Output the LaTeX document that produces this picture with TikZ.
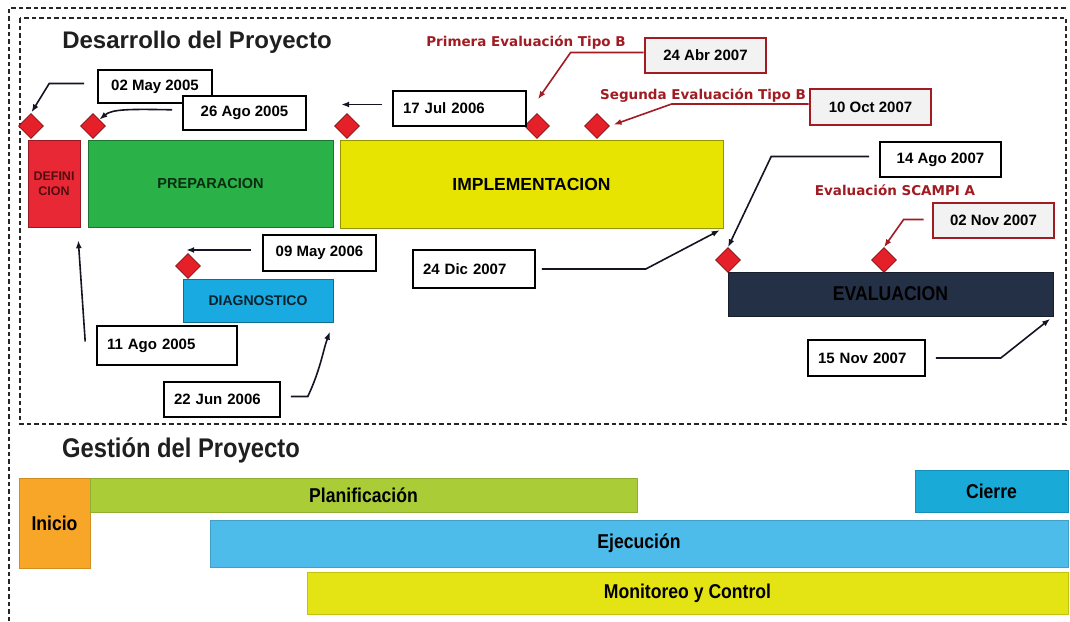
\documentclass[tikz,border=0pt]{standalone}
\usepackage{fontspec}
\setmainfont{Liberation Sans}
\newfontfamily\narrowfont{Liberation Sans}[FakeStretch=0.88]
\newfontfamily\labelfont{DejaVu Sans}
\usetikzlibrary{shapes.geometric,arrows.meta,calc}

\definecolor{defred}{RGB}{232,40,52}
\definecolor{prepgreen}{RGB}{42,178,72}
\definecolor{implyellow}{RGB}{230,228,0}
\definecolor{diagblue}{RGB}{24,170,225}
\definecolor{evalnavy}{RGB}{36,48,70}
\definecolor{msred}{RGB}{230,32,40}
\definecolor{labelred}{RGB}{160,28,34}
\definecolor{inicioorange}{RGB}{247,166,40}
\definecolor{plangreen}{RGB}{170,205,55}
\definecolor{cierreblue}{RGB}{25,170,215}
\definecolor{ejecblue}{RGB}{78,188,234}
\definecolor{moniyellow}{RGB}{228,228,20}
\definecolor{linecol}{RGB}{20,20,35}

\begin{document}
\begin{tikzpicture}[x=1pt,y=-1pt,
  frame/.style={draw=black!85, line width=1.8pt, dash pattern=on 4.5pt off 3pt},
  phase/.style={draw=#1!65!black, fill=#1, line width=0.6pt, inner sep=0pt},
  bar/.style={draw=#1!85!black, fill=#1, line width=0.5pt, inner sep=0pt,
    font=\narrowfont\bfseries\fontsize{20}{22}\selectfont},
  milestone/.style={diamond, draw=msred!55!black, fill=msred, line width=0.6pt,
    minimum width=25pt, minimum height=25pt, inner sep=0pt},
  datebox/.style={draw=black, line width=1.6pt, fill=white, inner xsep=10pt,
    font=\bfseries\fontsize{15}{17}\selectfont},
  redbox/.style={datebox, draw=labelred, line width=2.8pt, fill=black!5},
  evlabel/.style={font=\labelfont\bfseries\fontsize{13.5}{15}\selectfont, text=labelred},
  conn/.style={draw=linecol, line width=1.6pt, -{Latex[length=8pt,width=6pt]}},
  redconn/.style={conn, draw=labelred}
]
\useasboundingbox (0,0) rectangle (1070,621);

% dashed frames
\draw[frame] (9,621) -- (9,8) -- (1068,8);
\draw[frame] (20,18) rectangle (1066,424);

% section titles
\node[font=\bfseries\fontsize{24}{27}\selectfont, text=black!88] (devtitle) at (197,42) {Desarrollo del Proyecto};
\node[font=\narrowfont\bfseries\fontsize{27}{30}\selectfont, text=black!88] (mgmttitle) at (181,450) {Gestión del Proyecto};

% development phases
\node[phase=defred, minimum width=52pt, minimum height=87pt, align=center,
  font=\bfseries\fontsize{12.5}{15}\selectfont, text=defred!35!black] (def) at (54,183.5) {DEFINI\\CION};
\node[phase=prepgreen, minimum width=245pt, minimum height=87pt,
  font=\bfseries\fontsize{14.5}{16}\selectfont, text=prepgreen!25!black] (prep) at (210.5,183.5) {PREPARACION};
\node[phase=implyellow, minimum width=383pt, minimum height=88pt,
  font=\bfseries\fontsize{17.5}{19}\selectfont] (impl) at (531.5,184) {IMPLEMENTACION};
\node[phase=diagblue, minimum width=150pt, minimum height=43pt,
  font=\bfseries\fontsize{14}{16}\selectfont, text=diagblue!20!black] (diag) at (258,300.5) {DIAGNOSTICO};
\node[phase=evalnavy, minimum width=325pt, minimum height=44pt,
  font=\narrowfont\bfseries\fontsize{20}{22}\selectfont, text=black] (eval) at (890.5,294) {EVALUACION};

% milestones
\node[milestone] (d1) at (31,126) {};
\node[milestone] (d2) at (93,126) {};
\node[milestone] (d3) at (347,126) {};
\node[milestone] (d4) at (537,126) {};
\node[milestone] (d5) at (597,126) {};
\node[milestone] (d6) at (188,266) {};
\node[milestone] (d7) at (728,260) {};
\node[milestone] (d8) at (884,260) {};

% evaluation labels
\node[evlabel] (lblprim) at (526,43) {Primera Evaluación Tipo B};
\node[evlabel] (lblseg) at (703,96) {Segunda Evaluación Tipo B};
\node[evlabel] (lblscampi) at (895,190) {Evaluación SCAMPI A};

% date boxes
\node[datebox, minimum width=114pt, minimum height=33pt] (b02may) at (155,86.5) {02 May 2005};
\node[datebox, minimum width=123pt, minimum height=34pt] (b26ago) at (244.5,113) {26 Ago 2005};
\node[datebox, text width=113pt, align=left, minimum height=35pt] (b17jul) at (459.5,108.5) {17 Jul 2006};
\node[redbox, minimum width=121pt, minimum height=35pt] (b24abr) at (705.5,55.5) {24 Abr 2007};
\node[redbox, minimum width=121pt, minimum height=36pt] (b10oct) at (870.5,107) {10 Oct 2007};
\node[datebox, minimum width=121pt, minimum height=35pt] (b14ago) at (940.5,159.5) {14 Ago 2007};
\node[redbox, minimum width=121pt, minimum height=35pt] (b02nov) at (993.5,220.5) {02 Nov 2007};
\node[datebox, minimum width=113pt, minimum height=36pt] (b09may) at (319.5,253) {09 May 2006};
\node[datebox, text width=120pt, align=left, minimum height=39pt] (b11ago) at (167,345.5) {11 Ago 2005};
\node[datebox, text width=96pt, align=left, minimum height=35pt] (b22jun) at (222,399.5) {22 Jun 2006};
\node[datebox, text width=102pt, align=left, minimum height=38pt] (b24dic) at (474,269) {24 Dic 2007};
\node[datebox, text width=97pt, align=left, minimum height=36pt] (b15nov) at (866.5,358) {15 Nov 2007};

% connectors
\draw[conn, shorten <=13pt, shorten >=1pt] ([yshift=3pt]b02may.west) -- ++(-48,0) -- (d1.north);
\draw[conn, shorten <=10pt] ([yshift=3pt]b26ago.west) .. controls (130,109) and (112,109) .. (d2.north east);
\draw[conn, shorten <=10pt] ([yshift=4pt]b17jul.west) -- ++(-51,0);
\draw[redconn] ([yshift=3pt]b24abr.west) -- ++(-73,0) -- ($(d4.north)+(1,-14)$);
\draw[redconn, shorten >=4pt] ([yshift=3pt]b10oct.west) -- ++(-137,0) -- (d5.east);
\draw[conn, shorten <=10pt] ([yshift=3pt]b14ago.west) -- ++(-108,0) -- (d7.north);
\draw[redconn, shorten <=8pt] ([yshift=1pt]b02nov.west) -- ++(-28,0) -- (d8.north);
\draw[conn, shorten <=6pt, shorten >=4pt] (b24dic.east) -- ++(110,0) -- (impl.south east);
\draw[conn, shorten <=10pt, shorten >=4pt] (b15nov.east) -- ++(75,0) -- (eval.south east);
\draw[conn, shorten <=11pt] ([yshift=3pt]b09may.west) -- ++(-76,0);
\draw[conn] ([xshift=-11pt,yshift=4pt]b11ago.west) -- ($(def.south east)+(-2,13)$);
\draw[conn, shorten <=10pt, shorten >=10pt] ([yshift=3pt]b22jun.east) -- ++(27,0) to[out=65,in=250] (diag.south east);

% project management bars
\node[bar=inicioorange, minimum width=71pt, minimum height=90pt] (inicio) at (54.5,523) {Inicio};
\node[bar=plangreen, minimum width=547pt, minimum height=34pt] (plan) at (363.5,495) {Planificación};
\node[bar=cierreblue, minimum width=153pt, minimum height=42pt] (cierre) at (991.5,491) {Cierre};
\node[bar=ejecblue, minimum width=858pt, minimum height=47pt] (ejec) at (639,543.5) {Ejecución};
\node[bar=moniyellow, minimum width=761pt, minimum height=42pt] (moni) at (687.5,593) {Monitoreo y Control};
\end{tikzpicture}
\end{document}
